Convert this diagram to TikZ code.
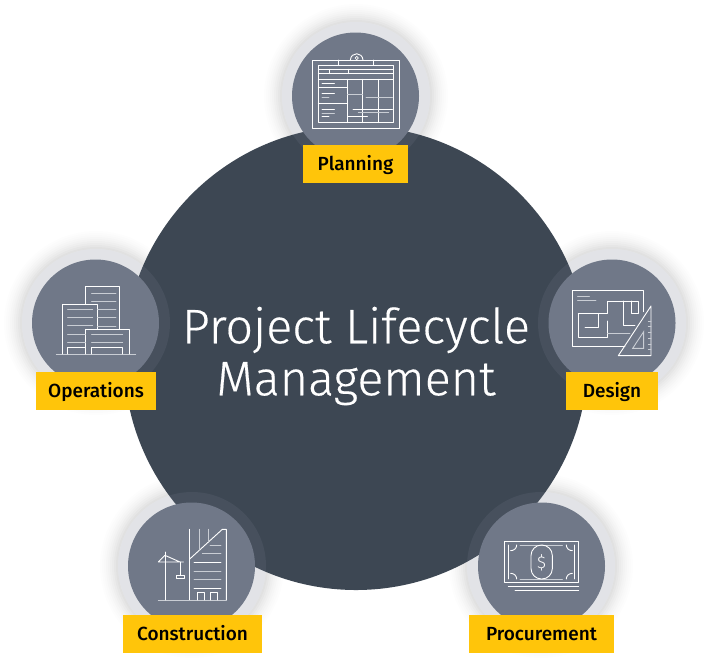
\documentclass[tikz,border=0pt]{standalone}
\usepackage{fontspec}
\setmainfont{Fira Sans}[UprightFont=* Medium]
\newfontfamily\titlefont{Fira Sans}[UprightFont=* Light,FakeBold=0.35]
\newfontfamily\smallfont{Fira Sans}[UprightFont=* Light]
\definecolor{hubdark}{HTML}{3D4753}
\definecolor{disc}{HTML}{707888}
\definecolor{haloc}{HTML}{6F7788}
\definecolor{tagc}{HTML}{FFC50A}
\definecolor{softw}{HTML}{C9CDD4}
\tikzset{
  hub/.style={circle,fill=hubdark,draw=none,inner sep=0pt,minimum size=464pt},
  discnode/.style={circle,fill=disc,draw=none,inner sep=0pt,minimum size=127pt},
  halo/.style={fill=haloc,fill opacity=0.2,draw=none},
  tagbox/.style={fill=tagc,draw=none,inner sep=0pt,minimum height=38pt,text height=17pt,text depth=4pt,font=\fontsize{19}{24}\selectfont,text=black,anchor=center},
  ico/.style={draw=white,line width=0.9pt,line cap=round,line join=round},
  icos/.style={draw=softw,line width=0.9pt,line cap=round},
  title/.style={text=white,align=center,font=\titlefont\fontsize{48.5}{52}\selectfont}
}
\newcommand{\softring}[2]{%
  \foreach \r/\o in {92/0.006,90/0.006,88/0.008,86/0.01,84/0.012,82/0.014,80/0.016,78/0.018,76/0.02}{
    \fill[black,opacity=\o] (#1,#2) circle (\r);
  }%
  \fill[white] (#1,#2) circle (74);
}
\begin{document}
\begin{tikzpicture}[x=1pt,y=-1pt]
\useasboundingbox (0,0) rectangle (708,662);
\fill[white] (0,0) rectangle (708,662);
% soft shadows
\softring{356}{96}\softring{96}{323}\softring{612}{323}\softring{192}{566}\softring{541}{566}
% hub
\node[hub] (hubc) at (356,358) {};
% halos
\fill[halo] (356,96) circle (74);
\fill[halo] (96,323) circle (74);
\fill[halo] (612,323) circle (74);
\fill[halo] (192,566) circle (74);
\fill[halo] (541,566) circle (74);
% discs
\node[discnode] (d1) at (355.5,96) {};
\node[discnode] (d2) at (95.5,323) {};
\node[discnode] (d3) at (612,323) {};
\node[discnode] (d4) at (191.5,566) {};
\node[discnode] (d5) at (541.5,566) {};
% title
\node[title] (ttl) at (356,356) {Project Lifecycle\\Management};
% Planning icon
\begin{scope}[shift={(280,10)},scale=1/3]
\draw[ico] (97,150) rectangle (358,356);
\draw[ico] (176,150)--(176,165) (281,150)--(281,165);
\draw[ico] (211,150) .. controls (213,125) and (247,125) .. (249,150);
\draw[ico,line width=0.7pt] (230,144) circle (5);
\draw[ico] (115,165) rectangle (339,338);
\draw[ico] (115,178)--(339,178) (115,191)--(339,191) (115,208)--(339,208);
\draw[ico] (148,178)--(148,191) (204,178)--(204,191);
\draw[ico] (203,208)--(203,338) (248,208)--(248,338) (294,208)--(294,338);
\draw[ico] (115,232)--(203,232) (115,280)--(203,280);
\draw[icos] (203,252)--(248,252);
\draw[ico] (126,219)--(163,219) (126,251)--(163,251) (126,298)--(163,298) (126,320)--(147,320);
\draw[icos] (126,261)--(147,261) (126,309)--(163,309);
\draw[icos] (258,261)--(337,261) (235,308)--(326,308);
\draw[ico] (219,297)--(337,297) (204,320)--(262,320);
\end{scope}
% Operations icon
\begin{scope}[shift={(20,245)},scale=1/3]
\draw[icos] (109,327)--(347,327);
\draw[ico] (195,178)--(195,125)--(299,125)--(299,252);
\draw[ico] (128,327)--(128,178)--(233,178)--(233,252);
\draw[ico] (196,327)--(196,252)--(327,252)--(327,327);
\draw[ico] (143,327)--(143,307)--(196,307);
\draw[ico] (215,327)--(215,307)--(308,307)--(308,327);
\draw[icos] (215,144)--(288,144) (215,168)--(288,168) (233,192)--(288,192) (233,217)--(288,217) (233,243)--(288,243);
\draw[icos] (143,192)--(218,192) (143,217)--(218,217) (143,242)--(218,242) (143,267)--(196,267) (143,292)--(196,292);
\draw[icos] (215,267)--(308,267) (215,292)--(308,292);
\end{scope}
% Design icon
\begin{scope}[shift={(535,245)},scale=1/3]
\draw[ico] (325,200)--(325,136)--(112,136)--(112,305)--(270,305);
\draw[ico] (250,332)--(348,183)--(348,332)--cycle;
\draw[icos] (293,310)--(326,260)--(326,310)--cycle;
\draw[icos] (340,228)--(348,228) (340,245)--(348,245) (340,262)--(348,262) (340,280)--(348,280) (340,297)--(348,297) (340,314)--(348,314);
\draw[icos] (128,153)--(163,153) (128,166)--(183,166);
\draw[ico] (130,206)--(218,206)--(218,168)--(310,168)--(310,205)--(288,205)--(288,168);
\draw[ico] (266,168)--(266,240)--(300,240);
\draw[ico] (130,206)--(130,278)--(218,278)--(218,228);
\draw[ico] (150,246)--(190,246)--(190,206);
\draw[icos] (218,265)--(285,265);
\end{scope}
% Construction icon
\begin{scope}[shift={(115,490)},scale=1/3]
\draw[ico] (223,118)--(223,330);
\draw[ico] (223,208)--(322,118)--(334,118)--(334,330);
\draw[icos] (130,330)--(334,330);
\draw[icos] (252,118)--(252,180) (280,118)--(280,155);
\draw[icos] (285,165)--(318,165) (262,191)--(318,191);
\draw[ico] (237,217)--(318,217);
\draw[icos] (237,243)--(318,243) (237,269)--(318,269);
\draw[ico] (237,295)--(318,295);
\draw[ico] (248,330)--(248,306)--(268,306)--(268,330) (286,330)--(286,306)--(306,306)--(306,330);
\draw[ico] (150,186)--(150,330);
\draw[ico] (130,216)--(205,216) (130,216)--(150,196)--(195,216);
\draw[ico] (195,216)--(195,255);
\draw[ico] (184,255) rectangle (208,266);
\end{scope}
% Procurement icon
\begin{scope}[shift={(465,490)},scale=1/3]
\draw[ico] (118,155) rectangle (341,277);
\draw[ico] (130,165)--(130,267) (329,165)--(329,267);
\draw[icos] (165,165)--(292,165) (165,267)--(292,267);
\draw[ico] (137,182) .. controls (147,182) and (155,175) .. (155,165);
\draw[ico] (322,182) .. controls (312,182) and (304,175) .. (304,165);
\draw[ico] (137,250) .. controls (147,250) and (155,257) .. (155,267);
\draw[ico] (322,250) .. controls (312,250) and (304,257) .. (304,267);
\draw[ico,rounded corners=10.5pt] (198,165) rectangle (262,267);
\node[text=white,font=\smallfont\fontsize{17}{17}\selectfont,inner sep=0pt] (dollar) at (230,217) {\$};
\draw[ico] (130,289)--(341,289) (150,300)--(341,300);
\end{scope}
% tags
\node[tagbox,minimum width=105pt] (t1) at (355.5,164) {Planning};
\node[tagbox,minimum width=120pt] (t2) at (96,391) {Operations};
\node[tagbox,minimum width=92pt] (t3) at (612,391) {Design};
\node[tagbox,minimum width=139pt] (t4) at (192.5,634) {Construction};
\node[tagbox,minimum width=145pt] (t5) at (541.5,634) {Procurement};
\end{tikzpicture}
\end{document}
